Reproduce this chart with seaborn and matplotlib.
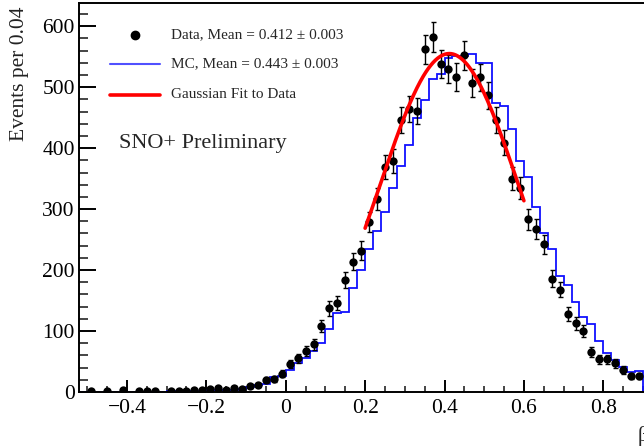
import numpy as np
import pandas as pd
import seaborn as sns
import matplotlib.pyplot as plt
from matplotlib.ticker import MultipleLocator, FuncFormatter

# Data points: bin centres (0.02 wide bins) and counts
data_x = np.round(np.arange(-0.49, 0.90, 0.02), 2)
data_counts = [
    2, np.nan, 2, np.nan, 3, np.nan, 2, 2, 2, np.nan,
    2, 2, 1, 3, 4, 5, 6, 4, 7, 5,
    10, 12, 20, 21, 30,
    46, 55, 68, 78, 108, 137, 146, 184, 214, 232,
    279, 317, 369, 379, 446, 464, 461, 562, 582, 538,
    529, 517, 552, 507, 516, 487, 446, 409, 350, 334,
    283, 267, 242, 186, 168, 128, 113, 100, 65, 54,
    54, 47, 36, 26, 26,
]

# MC histogram: bin edges and contents
mc_edges = np.round(np.arange(-0.52, 0.901, 0.02), 2)
mc_counts = [
    0, 0, 0, 0, 0, 0, 0, 0, 0.5, 0.5,
    0.5, 1, 1, 1.5, 2, 2, 3, 3, 3.5, 4,
    5, 9, 11, 13, 25, 26,
    36, 48, 55, 68, 81, 104, 129, 131, 170, 200,
    235, 264, 296, 335, 370, 405, 449, 479, 514, 522,
    547, 551, 551, 555, 540, 539, 474, 469, 432, 379,
    352, 303, 260, 235, 191, 176, 148, 123, 111, 84,
    64, 52, 41, 32, 35,
]

# Gaussian fit to data
fit_amp, fit_mean, fit_sigma = 555, 0.412, 0.176
fit_lo, fit_hi = 0.2, 0.6

legend_labels = ["Data, Mean = 0.412 \u00b1 0.003",
                 "MC, Mean = 0.443 \u00b1 0.003",
                 "Gaussian Fit to Data"]

sns.set_theme(style="ticks")
plt.rcParams['font.family'] = ['Liberation Serif', 'DejaVu Serif']
plt.rcParams['mathtext.fontset'] = 'stix'

fig = plt.figure(figsize=(6.44, 4.46), dpi=100)
ax = fig.add_axes([79 / 644, 54 / 446, 565 / 644, 389 / 446])

df = pd.DataFrame({"x": data_x, "n": data_counts}).dropna()

# MC histogram
ax.stairs(mc_counts, mc_edges, color="#1010ff", lw=1.3, zorder=2)

# data points with sqrt(N) errors
ax.errorbar(df["x"], df["n"], yerr=np.sqrt(df["n"]), fmt="none",
            ecolor="black", elinewidth=1.0, capsize=1.8, capthick=1.0, zorder=3)
sns.scatterplot(data=df, x="x", y="n", color="black", s=36, linewidth=0,
                ax=ax, zorder=4)

# gaussian fit
xf = np.linspace(fit_lo, fit_hi, 200)
yf = fit_amp * np.exp(-0.5 * ((xf - fit_mean) / fit_sigma) ** 2)
sns.lineplot(x=xf, y=yf, color="red", lw=2.6, ax=ax, zorder=5)

ax.set_xlim(-0.5207, 0.9025)
ax.set_ylim(0, 638)
ax.set_xlabel("")
ax.set_ylabel("")

ax.xaxis.set_major_locator(MultipleLocator(0.2))
ax.xaxis.set_minor_locator(MultipleLocator(0.05))
ax.yaxis.set_major_locator(MultipleLocator(100))
ax.yaxis.set_minor_locator(MultipleLocator(20))
ax.xaxis.set_major_formatter(FuncFormatter(
    lambda v, p: "0" if abs(v) < 1e-9 else f"{v:.1f}".replace("-", "\u2212")))

ax.tick_params(axis="x", which="major", direction="in", length=8.6, width=1.4,
               labelsize=15.5, pad=5, colors="black")
ax.tick_params(axis="x", which="minor", direction="in", length=4.5, width=1.2)
ax.tick_params(axis="y", which="major", direction="in", length=12.5, width=1.4,
               labelsize=15.5, pad=3, colors="black")
ax.tick_params(axis="y", which="minor", direction="in", length=6.5, width=1.2)

for side in ["left", "bottom", "top"]:
    ax.spines[side].set_linewidth(1.4)
    ax.spines[side].set_color("black")
ax.spines["right"].set_visible(False)

# legend drawn by hand in axes coordinates
tr = ax.transAxes
ax.plot([0.0991], [0.918], "o", color="black", ms=6, transform=tr)
ax.plot([0.0549, 0.1434], [0.843, 0.843], color="#5050ff", lw=1.5, transform=tr)
ax.plot([0.0549, 0.1434], [0.7635, 0.7635], color="red", lw=2.6, transform=tr)
for yy, lab in zip([0.918, 0.843, 0.7635], legend_labels):
    ax.text(0.1628, yy, lab, transform=tr, ha="left", va="center", fontsize=11)

ax.text(0.0708, 0.640, "SNO+ Preliminary", transform=tr, ha="left",
        va="center", fontsize=16)

fig.text(20 / 644, 1 - 73.5 / 446, "Events per 0.04", rotation=90,
         ha="center", va="center", fontsize=15.5, color="#222222")
fig.text(638 / 644, 1 - 441 / 446, "\u03b214", ha="left", va="baseline",
         fontsize=15.5)

fig.savefig("out.png", dpi=100)
